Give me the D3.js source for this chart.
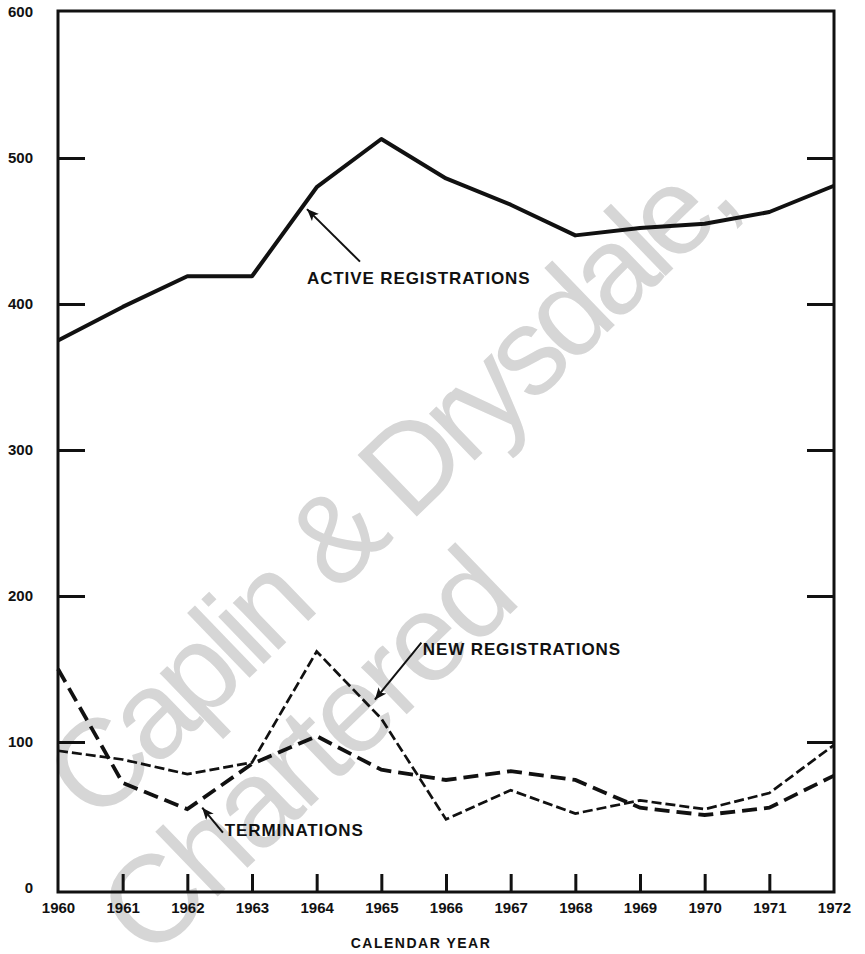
<!DOCTYPE html>
<html>
<head>
<meta charset="utf-8">
<script src="https://cdn.jsdelivr.net/npm/d3@7"></script>
<style>
  body { margin: 0; background: #fff; overflow: hidden; }
  svg { display: block; }
</style>
</head>
<body>
<svg id="main-svg" width="865" height="954"></svg>
<script>
'use strict';

// calendar years on the x axis
const years = [1960, 1961, 1962, 1963, 1964, 1965, 1966, 1967, 1968, 1969, 1970, 1971, 1972];

// series
const active_registrations = [375, 398, 419, 419, 480, 513, 486, 468, 447, 452, 455, 463, 481];
const new_registrations    = [94, 88, 78, 86, 162, 116, 47, 67, 51, 60, 54, 65, 98];
const terminations         = [150, 72, 54, 85, 104, 81, 74, 80, 74, 55, 50, 55, 77];

const y_ticks = [0, 100, 200, 300, 400, 500, 600];

// label text with arrow [tail, tip] and text anchor, in data units
const notes = [
    {text: 'ACTIVE REGISTRATIONS', at: [1963.85, 418], tail: [1964.67, 429], tip: [1963.85, 465]},
    {text: 'NEW REGISTRATIONS',    at: [1965.64, 164], tail: [1965.62, 168], tip: [1964.90, 129]},
    {text: 'TERMINATIONS',         at: [1962.58, 40],  tail: [1962.55, 38],  tip: [1962.23, 55]},
];

const svg = d3.select('#main-svg');

const x = d3.scaleLinear().domain([1960, 1972]).range([58, 834]);
const y = d3.scaleLinear().domain([0, 600]).range([888, 12]);
const frame = {left: 58, right: 834, top: 11, bottom: 892};
const font = '"Liberation Sans", Arial, sans-serif';

// watermark, drawn first so the chart sits on top
const wm = svg.append('g')
    .attr('fill', '#d6d6d6')
    .style('font-family', font)
    .style('font-size', '124px');
wm.append('text')
    .attr('transform', 'translate(96,826) rotate(-44)')
    .style('letter-spacing', '-7.5px')
    .text('Caplin & Drysdale,');
wm.append('text')
    .attr('transform', 'translate(150,962) rotate(-44)')
    .style('letter-spacing', '-4px')
    .text('Chartered');

// frame
svg.append('rect')
    .attr('x', frame.left).attr('y', frame.top)
    .attr('width', frame.right - frame.left)
    .attr('height', frame.bottom - frame.top)
    .attr('fill', 'none')
    .attr('stroke', '#111')
    .attr('stroke-width', 3);

// left axis: inward ticks, labels to the left
const left_axis = svg.append('g')
    .attr('transform', `translate(${frame.left},0)`)
    .call(d3.axisLeft(y).tickValues(y_ticks).tickSizeInner(-27).tickSizeOuter(0).tickPadding(25));
// right axis: inward ticks only
const right_axis = svg.append('g')
    .attr('transform', `translate(${frame.right},0)`)
    .call(d3.axisRight(y).tickValues(y_ticks.slice(1, -1)).tickSizeInner(-27).tickSizeOuter(0).tickFormat(''));
// bottom axis
const bottom_axis = svg.append('g')
    .attr('transform', `translate(0,${frame.bottom})`)
    .call(d3.axisBottom(x).tickValues(years).tickFormat(d3.format('d')).tickSizeInner(-18).tickSizeOuter(0).tickPadding(10));

[left_axis, right_axis, bottom_axis].forEach((g) => {
    g.select('.domain').remove();
    g.selectAll('.tick line').attr('stroke', '#111').attr('stroke-width', 3);
    g.selectAll('.tick text')
        .attr('fill', '#111')
        .style('font-family', font)
        .style('font-weight', 'bold')
        .style('font-size', '15px');
});
left_axis.selectAll('.tick')
    .filter((d) => d === 0 || d === 600)
    .select('line').remove();
bottom_axis.selectAll('.tick')
    .filter((d) => d === 1960 || d === 1972)
    .select('line').remove();

svg.append('text')
    .attr('x', 421).attr('y', 948)
    .attr('text-anchor', 'middle')
    .attr('fill', '#111')
    .style('font-family', font)
    .style('font-weight', 'bold')
    .style('font-size', '14px')
    .style('letter-spacing', '1.5px')
    .text('CALENDAR YEAR');

// lines
const line = (vals) => d3.line()
    .x((d, i) => x(years[i]))
    .y((d) => y(d))(vals);

svg.append('path')
    .attr('d', line(active_registrations))
    .attr('fill', 'none')
    .attr('stroke', '#111')
    .attr('stroke-width', 4)
    .attr('stroke-linejoin', 'round');

svg.append('path')
    .attr('d', line(terminations))
    .attr('fill', 'none')
    .attr('stroke', '#111')
    .attr('stroke-width', 3.8)
    .attr('stroke-dasharray', '15,7');

svg.append('path')
    .attr('d', line(new_registrations))
    .attr('fill', 'none')
    .attr('stroke', '#111')
    .attr('stroke-width', 2.7)
    .attr('stroke-dasharray', '10,4');

// arrow heads
svg.append('defs').append('marker')
    .attr('id', 'head')
    .attr('viewBox', '0 0 12 10')
    .attr('refX', 12).attr('refY', 5)
    .attr('markerUnits', 'userSpaceOnUse')
    .attr('markerWidth', 12).attr('markerHeight', 10)
    .attr('orient', 'auto')
    .append('path')
    .attr('d', 'M0,0 L12,5 L0,10 L3,5 Z')
    .attr('fill', '#111');

const note_g = svg.append('g');
note_g.selectAll('line')
    .data(notes)
    .enter().append('line')
    .attr('x1', (n) => x(n.tail[0])).attr('y1', (n) => y(n.tail[1]))
    .attr('x2', (n) => x(n.tip[0])).attr('y2', (n) => y(n.tip[1]))
    .attr('stroke', '#111')
    .attr('stroke-width', 2)
    .attr('marker-end', 'url(#head)');
note_g.selectAll('text')
    .data(notes)
    .enter().append('text')
    .attr('x', (n) => x(n.at[0]))
    .attr('y', (n) => y(n.at[1]))
    .attr('dy', '0.36em')
    .attr('fill', '#111')
    .style('font-family', font)
    .style('font-weight', 'bold')
    .style('font-size', '17px')
    .style('letter-spacing', '0.9px')
    .text((n) => n.text);
</script>
</body>
</html>
